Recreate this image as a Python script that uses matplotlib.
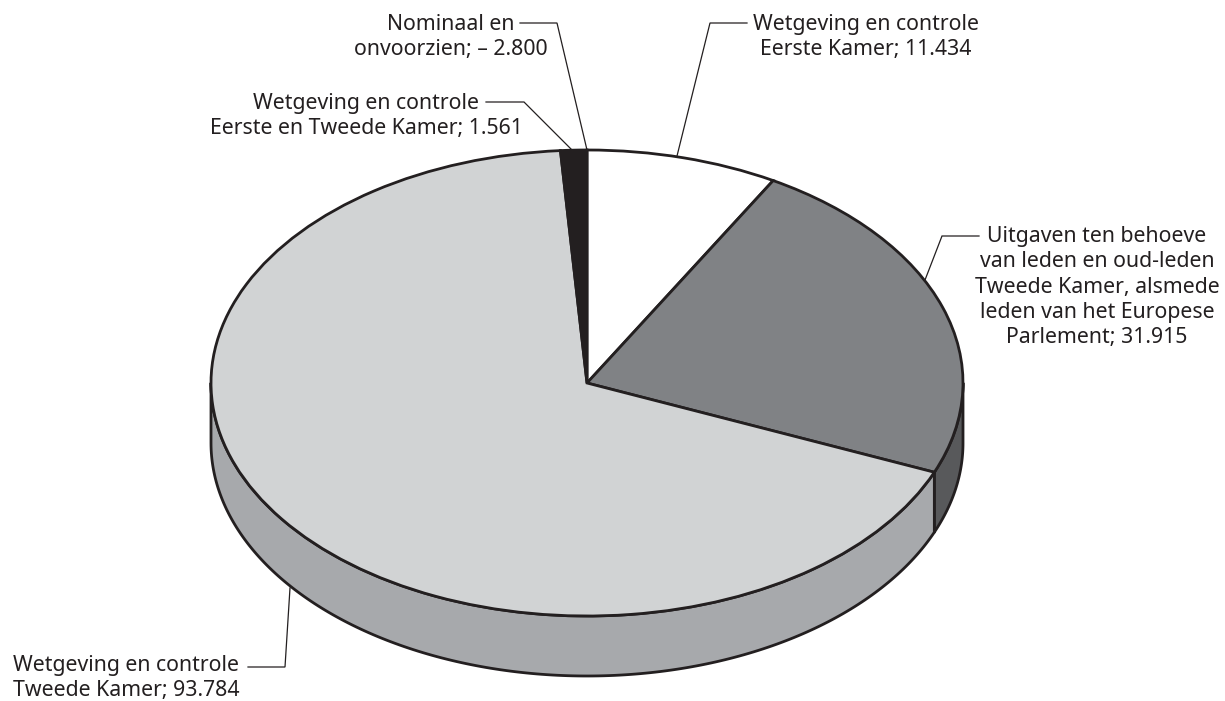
import numpy as np
import matplotlib
matplotlib.use('Agg')
import matplotlib.pyplot as plt

plt.rcParams['font.family'] = ['Noto Sans', 'DejaVu Sans']

# plotted slices, clockwise from the top
values = [11.434, 31.915, 93.784, 1.561]
top_colors = ['#ffffff', '#808285', '#d1d3d4', '#231f20']
side_colors = ['#ffffff', '#58595b', '#a7a9ac', '#231f20']

label_eerste = 'Wetgeving en controle\nEerste Kamer; 11.434'
label_uitgaven = 'Uitgaven ten behoeve\nvan leden en oud-leden\nTweede Kamer, alsmede\nleden van het Europese\nParlement; 31.915'
label_tweede = 'Wetgeving en controle\nTweede Kamer; 93.784'
label_beide = 'Wetgeving en controle\nEerste en Tweede Kamer; 1.561'
label_nominaal = 'Nominaal en\nonvoorzien; – 2.800'

INK = '#231f20'
CX, CY, RX, RY, DEPTH = 587, 383, 376, 233, 60
LW = 2.0

fig = plt.figure(figsize=(12.25, 7.01), dpi=100)
ax = fig.add_axes([0, 0, 1, 1])

ax.pie(values, colors=top_colors, startangle=90, counterclock=False,
       wedgeprops={'edgecolor': INK, 'linewidth': LW, 'zorder': 3})
ax.set_aspect('auto')
ax.set_xlim((0 - CX) / RX, (1225 - CX) / RX)
ax.set_ylim((CY - 701) / RY, (CY - 0) / RY)


def px(x, y):
    return (x - CX) / RX, (CY - y) / RY


# side wall: only the part of each slice on the front half shows
d = DEPTH / RY
cum = np.cumsum([0] + values) / sum(values) * 360
for i in range(len(values)):
    a0, a1 = max(cum[i], 90), min(cum[i + 1], 270)
    if a1 <= a0:
        continue
    a = np.radians(np.linspace(a0, a1, 200))
    xs = np.sin(a)
    ys = np.cos(a)
    ax.fill(np.r_[xs, xs[::-1]], np.r_[ys, ys[::-1] - d],
            facecolor=side_colors[i], edgecolor=INK, linewidth=LW,
            joinstyle='round', zorder=2)

# leader lines
leaders = [
    [(747, 23), (710, 23), (677, 156)],
    [(979, 236), (942, 236), (925, 280)],
    [(248, 667), (285, 667), (290, 588)],
    [(486, 102), (524, 102), (572, 150)],
    [(520, 23), (557, 23), (587, 150)],
]
for pts in leaders:
    p = np.array([px(*q) for q in pts])
    ax.plot(p[:, 0], p[:, 1], color=INK, linewidth=0.9, zorder=1,
            solid_joinstyle='miter')

FS = 15.3
LS = 1.27


def put(x, y, s):
    tx, ty = px(x, y)
    ax.text(tx, ty, s, ha='center', va='top', fontsize=FS, color=INK,
            linespacing=LS, multialignment='center')


put(866, 14, label_eerste)
put(1097, 226, label_uitgaven)
put(126, 655, label_tweede)
put(366, 93, label_beide)
put(451, 14, label_nominaal)

fig.savefig('out.png', dpi=100, facecolor='white')
